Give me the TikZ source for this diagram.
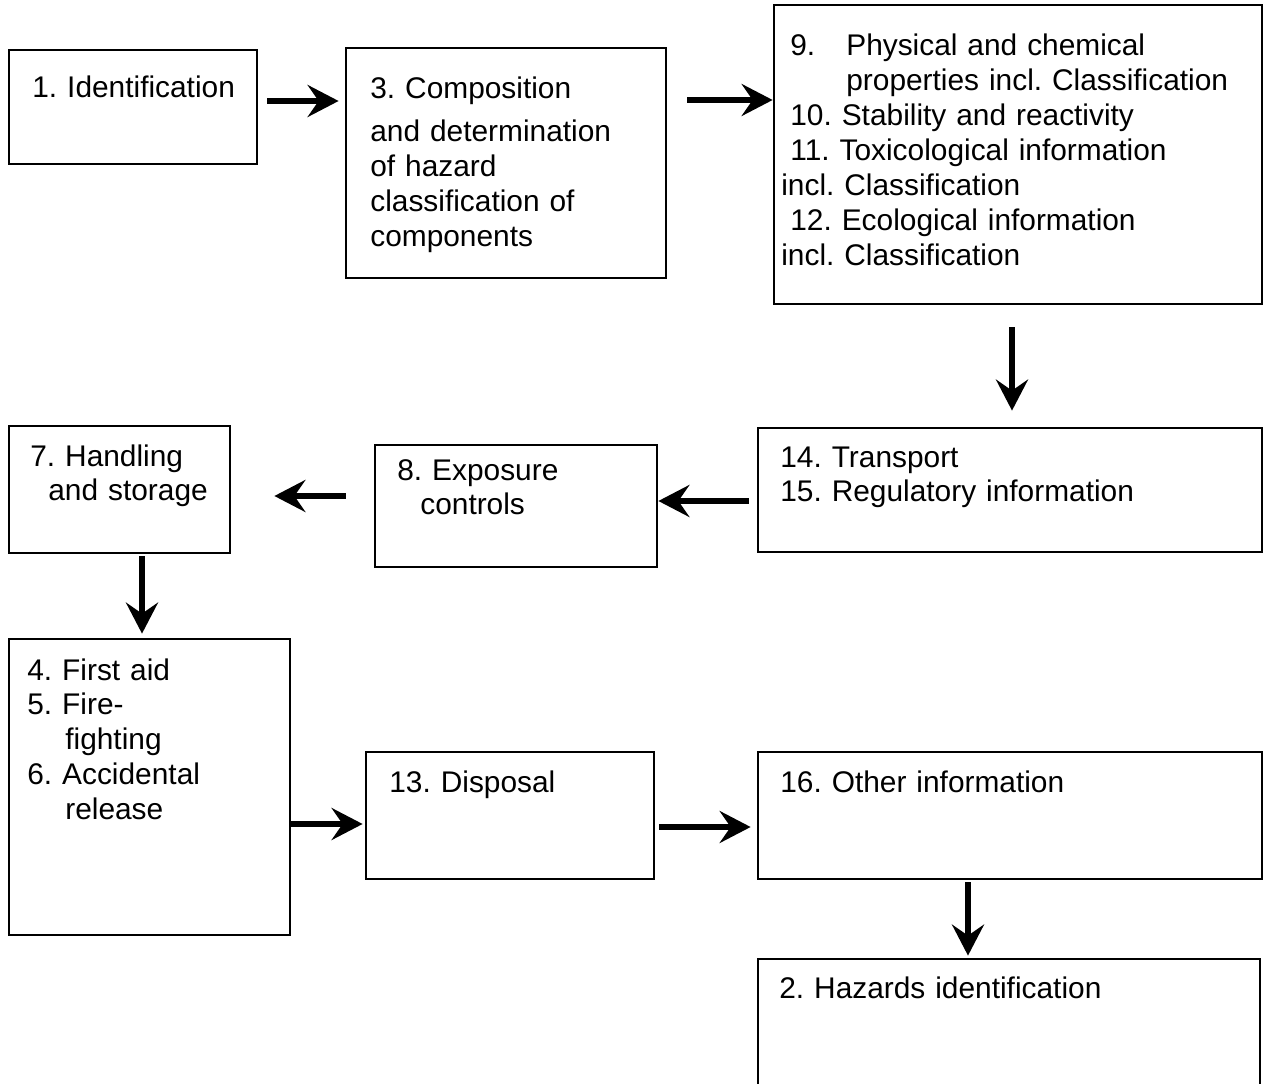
\documentclass[tikz,border=0pt]{standalone}
\usepackage{fontspec}
\setmainfont{Liberation Sans}
\usetikzlibrary{arrows.meta}

\tikzset{
  box/.style={draw, line width=1.6pt, minimum width=#1, inner sep=0pt},
  txt/.style={anchor=base west, inner sep=0pt, text width=12cm, align=left,
              font=\fontsize{17pt}{19.9pt}\selectfont\frenchspacing},
  arr/.style={line width=3.5pt, -{Stealth[length=0.62cm, width=0.64cm, inset=0.22cm]}}
}

\begin{document}
\begin{tikzpicture}[x=0.02cm, y=-0.02cm]
    \useasboundingbox (0,0) rectangle (1268,1084);
    \clip (0,0) rectangle (1268,1084);

    % boxes
    \node[box=4.96cm, minimum height=2.28cm] (ident) at (133,107) {};
    \node[box=6.4cm,  minimum height=4.6cm]  (comp)  at (506,163) {};
    \node[box=9.76cm, minimum height=5.98cm] (phys)  at (1018,154.5) {};
    \node[box=10.08cm, minimum height=2.48cm] (trans) at (1010,490) {};
    \node[box=5.64cm, minimum height=2.44cm] (expo)  at (516,506) {};
    \node[box=4.42cm, minimum height=2.54cm] (hand)  at (119.5,489.5) {};
    \node[box=5.62cm, minimum height=5.92cm] (first) at (149.5,787) {};
    \node[box=5.76cm, minimum height=2.54cm] (disp)  at (510,815.5) {};
    \node[box=10.08cm, minimum height=2.54cm] (other) at (1010,815.5) {};
    \node[box=10.04cm, minimum height=2.9cm] (haz)   at (1009,1031.5) {};

    % texts
    \node[txt] (ident-t) at (32,98) {1. Identification};
    \node[txt] (comp-t) at (370,99) {3. Composition\\[0.16cm]
        and determination\\of hazard\\classification of\\components};
    \node[txt] (phys-t) at (781,56) {%
        \hspace*{0.18cm}\makebox[1.12cm][l]{9.}Physical and chemical\\
        \hspace*{1.3cm}properties incl. Classification\\
        \hspace*{0.18cm}10. Stability and reactivity\\
        \hspace*{0.18cm}11. Toxicological information\\
        incl. Classification\\
        \hspace*{0.18cm}12. Ecological information\\
        incl. Classification};
    \node[txt] (trans-t) at (780,467) {14. Transport\\15. Regulatory information};
    \node[txt] (expo-t) at (397,480) {8. Exposure\\\hspace*{0.46cm}controls};
    \node[txt] (hand-t) at (30,466) {7. Handling\\\hspace*{0.36cm}and storage};
    \node[txt] (first-t) at (27,680) {4. First aid\\5. Fire-\\
        \hspace*{0.76cm}fighting\\6. Accidental\\\hspace*{0.76cm}release};
    \node[txt] (disp-t) at (389,792) {13. Disposal};
    \node[txt] (other-t) at (780,792) {16. Other information};
    \node[txt] (haz-t) at (779,998) {2. Hazards identification};

    % arrows
    \draw[arr, shorten <=0.18cm, shorten >=0.12cm] (ident.east |- 0,101) -- (comp.west |- 0,101);
    \draw[arr, shorten <=0.4cm] (comp.east |- 0,100) -- (phys.west |- 0,100);
    \draw[arr, shorten <=0.44cm, shorten >=0.32cm] (phys.south -| 1012,0) -- (trans.north -| 1012,0);
    \draw[arr, shorten <=0.16cm] (trans.west |- 0,501) -- (expo.east |- 0,501);
    \draw[arr, shorten <=0.56cm, shorten >=0.86cm] (expo.west |- 0,496) -- (hand.east |- 0,496);
    \draw[arr, shorten <=0.04cm, shorten >=0.08cm] (hand.south -| 142,0) -- (first.north -| 142,0);
    \draw[arr, shorten >=0.04cm] (first.east |- 0,824) -- (disp.west |- 0,824);
    \draw[arr, shorten <=0.08cm, shorten >=0.12cm] (disp.east |- 0,827) -- (other.west |- 0,827);
    \draw[arr, shorten <=0.04cm, shorten >=0.04cm] (other.south -| 968,0) -- (haz.north -| 968,0);
\end{tikzpicture}
\end{document}
